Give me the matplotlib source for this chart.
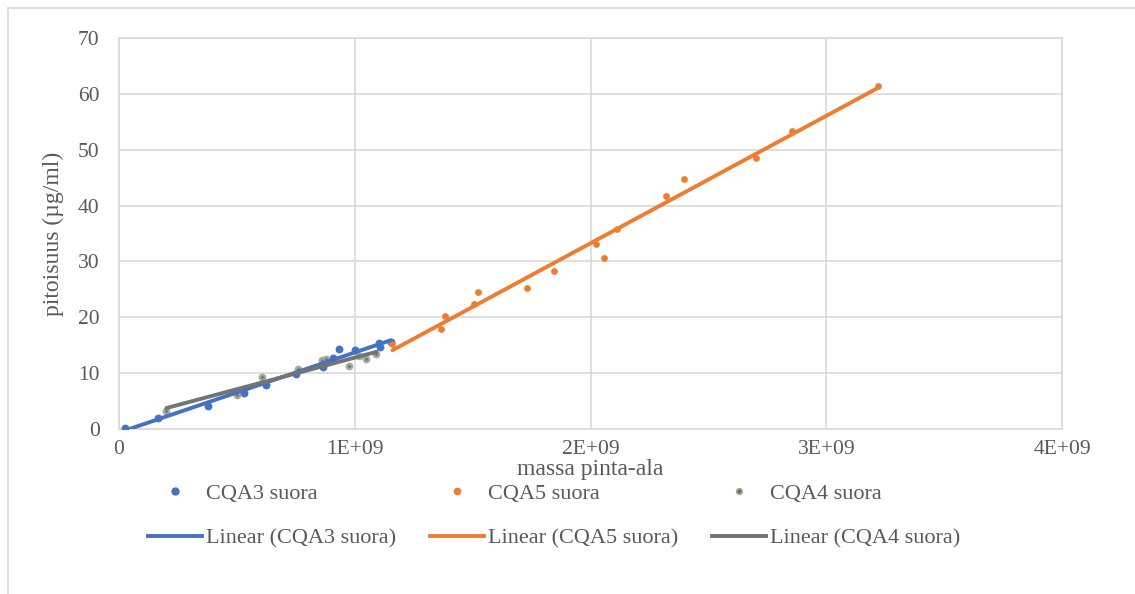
import numpy as np
import matplotlib
matplotlib.use("Agg")
import matplotlib.pyplot as plt
from matplotlib.lines import Line2D

plt.rcParams['font.family'] = ['Liberation Serif', 'DejaVu Serif']

# CQA3 suora
cqa3_x = [0.025e9, 0.167e9, 0.377e9, 0.532e9, 0.625e9, 0.75e9, 0.866e9, 0.908e9,
          0.932e9, 1.0e9, 1.102e9, 1.106e9, 1.153e9]
cqa3_y = [0.23, 2.02, 4.17, 6.53, 7.93, 9.79, 11.05, 12.66, 14.32, 14.14, 15.45, 14.7, 15.57]

# CQA5 suora
cqa5_x = [1.16e9, 1.366e9, 1.384e9, 1.506e9, 1.524e9, 1.73e9, 1.847e9, 2.025e9, 2.056e9,
          2.113e9, 2.32e9, 2.395e9, 2.70e9, 2.854e9, 3.22e9]
cqa5_y = [15.3, 17.96, 20.2, 22.4, 24.6, 25.2, 28.2, 33.2, 30.67, 35.86, 41.7, 44.75,
          48.6, 53.4, 61.35]

# CQA4 suora
cqa4_x = [0.201e9, 0.501e9, 0.605e9, 0.761e9, 0.859e9, 0.877e9, 0.975e9, 1.02e9,
          1.047e9, 1.092e9]
cqa4_y = [3.31, 6.09, 9.26, 10.69, 12.35, 12.48, 11.28, 13.07, 12.53, 13.37]

blue = '#4472C4'
orange = '#ED7D31'
gray_line = '#737373'
grid_c = '#D9D9D9'
text_c = '#595959'

fig = plt.figure(figsize=(11.35, 5.94), dpi=100)
ax = fig.add_axes([119 / 1135, 1 - 429 / 594, (1062 - 119) / 1135, (429 - 38) / 594])

# outer chart frame
fig.add_artist(Line2D([8 / 1135, 8 / 1135], [0, 1 - 8 / 594], color='#D9D9D9', lw=1.2,
                      transform=fig.transFigure))
fig.add_artist(Line2D([8 / 1135, 1], [1 - 8 / 594, 1 - 8 / 594], color='#D9D9D9', lw=1.2,
                      transform=fig.transFigure))


def trend(x, y):
    x = np.array(x)
    k, b = np.polyfit(x, y, 1)
    xs = np.array([x.min(), x.max()])
    return xs, k * xs + b


ax.scatter(cqa3_x, cqa3_y, s=32, color=blue, zorder=3, linewidths=0)
ax.scatter(cqa5_x, cqa5_y, s=24, color=orange, zorder=3, linewidths=0)
ax.scatter(cqa4_x, cqa4_y, s=14, color='#548235', edgecolors='#A5A5A5', linewidths=1.8, zorder=3)

tx, ty = trend(cqa3_x, cqa3_y)
ax.plot(tx, ty, color=blue, lw=2.8, solid_capstyle='round', zorder=4)
tx, ty = trend(cqa5_x, cqa5_y)
ax.plot(tx, ty, color=orange, lw=2.8, solid_capstyle='round', zorder=4)
tx, ty = trend(cqa4_x, cqa4_y)
ax.plot(tx, ty, color=gray_line, lw=2.8, solid_capstyle='round', zorder=4)

ax.set_xlim(0, 4e9)
ax.set_ylim(0, 70)
ax.set_xticks([0, 1e9, 2e9, 3e9, 4e9])
ax.set_xticklabels(['0', '1E+09', '2E+09', '3E+09', '4E+09'])
ax.set_yticks(range(0, 71, 10))
ax.grid(True, color=grid_c, lw=1.2)
ax.set_axisbelow(True)
for s in ax.spines.values():
    s.set_color(grid_c)
    s.set_linewidth(1.2)
ax.tick_params(length=0, labelsize=15.5, colors=text_c)
ax.tick_params(axis='x', pad=8)
ax.tick_params(axis='y', pad=14)

ax.set_xlabel('massa pinta-ala', fontsize=17, color=text_c, labelpad=0)
ax.set_ylabel('pitoisuus (µg/ml)', fontsize=17, color=text_c, labelpad=10)

h = [
    Line2D([], [], ls='', marker='o', ms=5, color=blue),
    Line2D([], [], color=blue, lw=2.8),
    Line2D([], [], ls='', marker='o', ms=4.5, color=orange),
    Line2D([], [], color=orange, lw=2.8),
    Line2D([], [], ls='', marker='o', ms=4, color='#548235', mec='#A5A5A5', mew=1.2),
    Line2D([], [], color=gray_line, lw=2.8),
]
labels = ['CQA3 suora', 'Linear (CQA3 suora)', 'CQA5 suora', 'Linear (CQA5 suora)',
          'CQA4 suora', 'Linear (CQA4 suora)']
leg = fig.legend(h, labels, ncol=3, loc='center', bbox_to_anchor=(554 / 1135, 1 - 516 / 594),
                 frameon=False, fontsize=16, handlelength=2.45, handletextpad=0.18,
                 columnspacing=1.5, labelspacing=1.1, labelcolor=text_c)

fig.savefig('out.png', dpi=100)
